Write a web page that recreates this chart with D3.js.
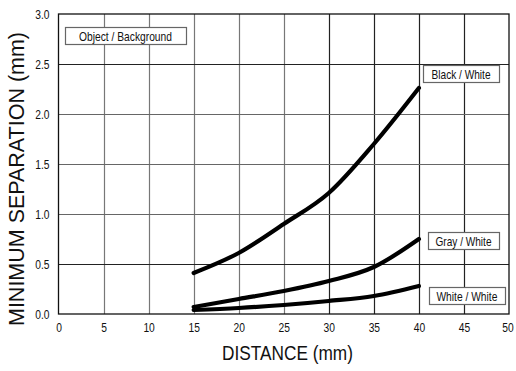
<!DOCTYPE html>
<html>
<head>
<meta charset="utf-8">
<script src="https://cdn.jsdelivr.net/npm/d3@7"></script>
<style>
  body { margin: 0; background: #fff; }
  svg text { font-family: "Liberation Sans", Arial, sans-serif; }
</style>
</head>
<body>
<svg id="chart"></svg>
<script>
const distances = [15, 20, 25, 30, 35, 40];
const blackWhite = [0.41, 0.61, 0.9, 1.21, 1.7, 2.26];
const grayWhite = [0.07, 0.15, 0.23, 0.33, 0.47, 0.75];
const whiteWhite = [0.04, 0.06, 0.09, 0.13, 0.18, 0.28];
const xTicks = [0, 5, 10, 15, 20, 25, 30, 35, 40, 45, 50];
const yTicks = [0, 0.5, 1.0, 1.5, 2.0, 2.5, 3.0];

const width = 516, height = 371;
const margin = { top: 14, right: 7, bottom: 57, left: 58.5 };

const svg = d3.select("#chart").attr("width", width).attr("height", height);

const x = d3.scaleLinear().domain([0, 50]).range([margin.left, width - margin.right]);
const y = d3.scaleLinear().domain([0, 3]).range([height - margin.bottom, margin.top]);

// squeeze text horizontally, the original uses a narrow face
const condense = (sel, k) => sel.each(function () {
  const w = this.getComputedTextLength();
  d3.select(this).attr("textLength", w * k).attr("lengthAdjust", "spacingAndGlyphs");
});

// grid
svg.append("g")
  .selectAll("line")
  .data(xTicks.slice(1, -1))
  .join("line")
  .attr("x1", d => Math.round(x(d)) + 0.5)
  .attr("x2", d => Math.round(x(d)) + 0.5)
  .attr("y1", y(3))
  .attr("y2", y(0))
  .attr("stroke", d => d < 28 ? "#777" : "#222")
  .attr("stroke-width", 1.2);

svg.append("g")
  .selectAll("line")
  .data(yTicks.slice(1, -1))
  .join("line")
  .attr("x1", x(0))
  .attr("x2", x(50))
  .attr("y1", d => Math.round(y(d)) + 0.5)
  .attr("y2", d => Math.round(y(d)) + 0.5)
  .attr("stroke", d => d === 0.5 || d === 2.5 ? "#222" : "#666")
  .attr("stroke-width", 1.2);

// frame
svg.append("rect")
  .attr("x", x(0)).attr("y", y(3))
  .attr("width", x(50) - x(0)).attr("height", y(0) - y(3))
  .attr("fill", "none").attr("stroke", "#111").attr("stroke-width", 1.3);

// axes
const xAxis = svg.append("g")
  .attr("transform", "translate(0," + y(0) + ")")
  .call(d3.axisBottom(x).tickValues(xTicks).tickSize(0).tickPadding(9).tickFormat(d3.format("d")));
xAxis.select(".domain").remove();
xAxis.selectAll("text").attr("font-size", 12.5).attr("fill", "#111")
  .style("font-family", "'Liberation Sans', Arial, sans-serif")
  .call(condense, 0.82);
xAxis.selectAll(".tick").filter(d => d === 50).select("text").attr("dx", -1.5);

const yAxis = svg.append("g")
  .attr("transform", "translate(" + x(0) + ",0)")
  .call(d3.axisLeft(y).tickValues(yTicks).tickSize(0).tickPadding(9).tickFormat(d3.format(".1f")));
yAxis.select(".domain").remove();
yAxis.selectAll("text").attr("font-size", 12.5).attr("fill", "#111")
  .style("font-family", "'Liberation Sans', Arial, sans-serif")
  .call(condense, 0.82);

// axis titles
svg.append("text")
  .attr("x", 287.5)
  .attr("y", 360)
  .attr("text-anchor", "middle")
  .attr("font-size", 21)
  .attr("fill", "#111")
  .attr("textLength", 131)
  .attr("lengthAdjust", "spacingAndGlyphs")
  .text("DISTANCE (mm)");

svg.append("text")
  .attr("transform", "translate(24,179) rotate(-90)")
  .attr("text-anchor", "middle")
  .attr("font-size", 22.5)
  .attr("fill", "#111")
  .attr("textLength", 294)
  .attr("lengthAdjust", "spacingAndGlyphs")
  .text("MINIMUM SEPARATION (mm)");

// curves
const series = [blackWhite, grayWhite, whiteWhite];
const line = d3.line()
  .x((d, i) => x(distances[i]))
  .y(d => y(d))
  .curve(d3.curveMonotoneX);

svg.append("g")
  .selectAll("path")
  .data(series)
  .join("path")
  .attr("d", d => line(d))
  .attr("fill", "none")
  .attr("stroke", "#000")
  .attr("stroke-width", 4.2)
  .attr("stroke-linecap", "round");

// label boxes
const labels = [
  { text: "Object / Background", x0: 0.72, x1: 14.15, yv: 2.87, tw: 93 },
  { text: "Black / White", x0: 40.45, x1: 48.9, yv: 2.49, tw: 59 },
  { text: "Gray / White", x0: 41.0, x1: 48.9, yv: 0.82, tw: 56 },
  { text: "White / White", x0: 41.1, x1: 49.55, yv: 0.27, tw: 61 }
];
const lg = svg.append("g").selectAll("g").data(labels).join("g");
lg.append("rect")
  .attr("x", d => Math.round(x(d.x0)) + 0.5)
  .attr("y", d => Math.round(y(d.yv)) + 0.5)
  .attr("width", d => Math.round(x(d.x1) - x(d.x0)))
  .attr("height", 17)
  .attr("fill", "#fff")
  .attr("stroke", "#666")
  .attr("stroke-width", 1.2);
lg.append("text")
  .attr("x", d => (x(d.x0) + x(d.x1)) / 2)
  .attr("y", d => y(d.yv) + 14)
  .attr("text-anchor", "middle")
  .attr("font-size", 13.5)
  .attr("fill", "#111")
  .attr("textLength", d => d.tw)
  .attr("lengthAdjust", "spacingAndGlyphs")
  .text(d => d.text);
</script>
</body>
</html>
